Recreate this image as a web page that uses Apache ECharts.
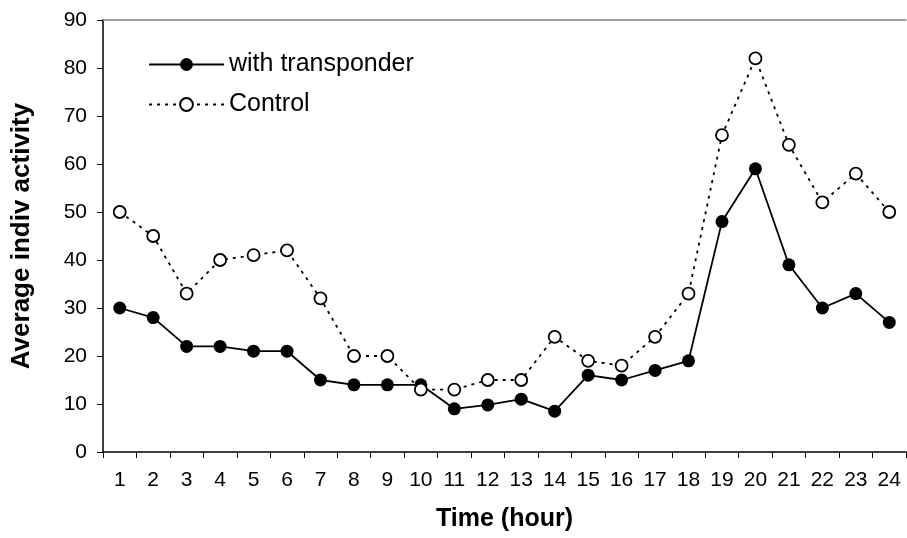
<!DOCTYPE html>
<html><head><meta charset="utf-8">
<script src="https://cdn.jsdelivr.net/npm/echarts@6/dist/echarts.min.js"></script>
<style>html,body{margin:0;padding:0;background:#fff}#c{width:907px;height:538px}</style>
</head><body><div id="c"></div>
<script>
const hours = ['1','2','3','4','5','6','7','8','9','10','11','12','13','14','15','16','17','18','19','20','21','22','23','24'];
const withTransponder = [30, 28, 22, 22, 21, 21, 15, 14, 14, 14, 9, 9.8, 11, 8.5, 16, 15, 17, 19, 48, 59, 39, 30, 33, 27];
const control = [50, 45, 33, 40, 41, 42, 32, 20, 20, 13, 13, 15, 15, 24, 19, 18, 24, 33, 66, 82, 64, 52, 58, 50];
const yTicks = {min: 0, max: 90, interval: 10};
const FONT = 'Liberation Sans, Arial, sans-serif';

const chart = echarts.init(document.getElementById('c'), null, {renderer: 'canvas'});
chart.setOption({
  animation: false,
  backgroundColor: '#fff',
  textStyle: {fontFamily: FONT, color: '#000'},
  grid: {left: 103, top: 20, right: 1, bottom: 86, containLabel: false},
  legend: {
    orient: 'vertical', left: 143, top: 47, itemWidth: 75, itemHeight: 16, itemGap: 15,
    textStyle: {fontFamily: FONT, fontSize: 25, color: '#000'},
    data: ['with transponder', 'Control']
  },
  xAxis: [{
    type: 'category', data: hours, boundaryGap: true,
    axisLine: {lineStyle: {color: '#000', width: 1.5}},
    axisTick: {show: true, length: 6, lineStyle: {color: '#000', width: 1}},
    axisLabel: {fontFamily: FONT, fontSize: 21, color: '#000', margin: 18},
    name: 'Time (hour)', nameLocation: 'middle', nameGap: 55,
    nameTextStyle: {fontFamily: FONT, fontSize: 25, fontWeight: 'bold', color: '#000'}
  }, {
    type: 'category', data: hours, position: 'top',
    axisLine: {lineStyle: {color: '#808080', width: 1.5}},
    axisTick: {show: false}, axisLabel: {show: false}
  }],
  yAxis: {
    type: 'value', min: yTicks.min, max: yTicks.max, interval: yTicks.interval,
    splitLine: {show: false},
    axisLine: {show: true, lineStyle: {color: '#000', width: 1.5}},
    axisTick: {show: true, length: 6, lineStyle: {color: '#000', width: 1}},
    axisLabel: {fontFamily: FONT, fontSize: 21, color: '#000', margin: 16},
    name: 'Average indiv activity', nameLocation: 'middle', nameGap: 68, nameRotate: 90,
    nameTextStyle: {fontFamily: FONT, fontSize: 26, fontWeight: 'bold', color: '#000'}
  },
  series: [{
    name: 'with transponder', type: 'line', data: withTransponder,
    symbol: 'circle', symbolSize: 13,
    itemStyle: {color: '#000'},
    lineStyle: {color: '#000', width: 1.8}
  }, {
    name: 'Control', type: 'line', data: control,
    symbol: 'circle', symbolSize: 12,
    itemStyle: {color: '#fff', borderColor: '#000', borderWidth: 1.8},
    lineStyle: {color: '#000', width: 1.8, type: [3, 5]}
  }]
});
</script></body></html>
